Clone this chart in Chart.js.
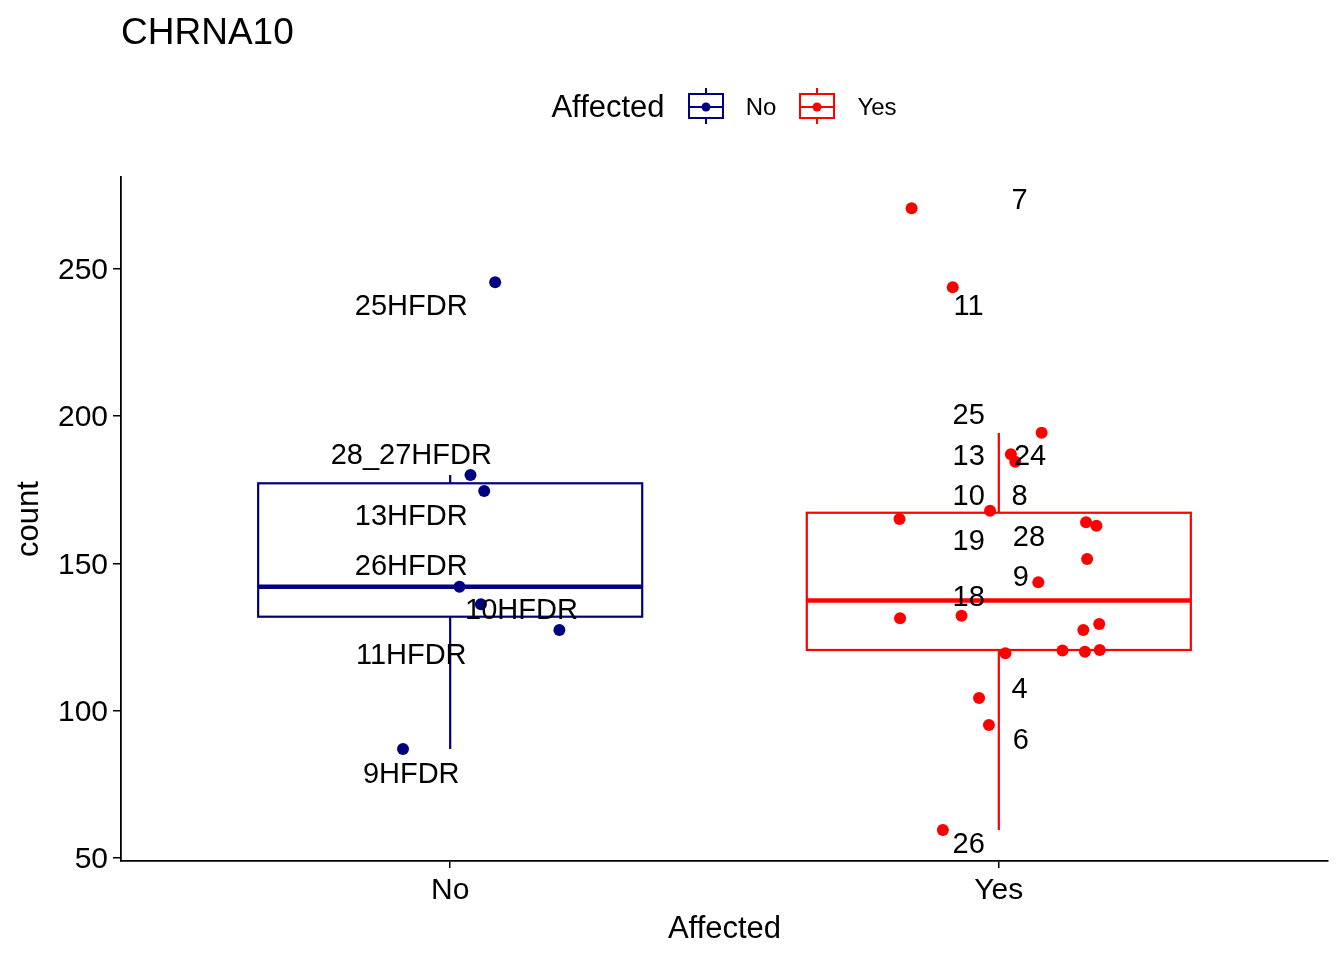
<!DOCTYPE html>
<html>
<head>
<meta charset="utf-8">
<script src="https://cdn.jsdelivr.net/npm/chart.js@4"></script>
<style>
  html, body { margin: 0; padding: 0; background: #fff; }
  canvas { display: block; }
</style>
</head>
<body>
<canvas id="boxChart" width="1344" height="960"></canvas>
<script>
// groups on the x axis
const groups = ['No', 'Yes'];
const groupColors = ['#000080', '#FF0000'];

// jittered points: x offset from the group centre, and count
const noJitter = [0.082, 0.037, 0.062, 0.017, 0.056, 0.199, -0.086];
const noCounts = [245.5, 180.0, 174.6, 142.1, 136.1, 127.4, 87.0];
const yesJitter = [-0.159, -0.084, 0.078, 0.022, 0.030, -0.016, -0.181, 0.159, 0.178, 0.161, 0.072,
                   -0.068, -0.180, 0.183, 0.154, 0.116, 0.157, 0.184, 0.012, -0.036, -0.018, -0.102];
const yesCounts = [270.6, 243.8, 194.4, 187.1, 184.5, 167.9, 165.1, 164.0, 162.8, 151.5, 143.6,
                   132.2, 131.4, 129.4, 127.4, 120.4, 120.0, 120.6, 119.5, 104.3, 95.1, 59.5];

// box statistics per group: lower whisker, q1, median, q3, upper whisker
const whiskerLow = [87.0, 59.5];
const q1 = [131.9, 120.6];
const median = [142.1, 137.4];
const q3 = [177.2, 167.2];
const whiskerHigh = [180.0, 194.3];

// sample labels: text, x offset from group centre, count position
const noLabels = ['25HFDR', '28_27HFDR', '13HFDR', '26HFDR', '10HFDR', '11HFDR', '9HFDR'];
const noLabelX = [-0.071, -0.071, -0.071, -0.071, 0.130, -0.071, -0.071];
const noLabelY = [237.7, 187.1, 166.4, 149.5, 134.5, 119.2, 78.9];
const yesLabels = ['7', '11', '25', '13', '24', '10', '8', '19', '28', '9', '18', '4', '6', '26'];
const yesLabelX = [0.038, -0.055, -0.055, -0.055, 0.057, -0.055, 0.038, -0.055, 0.055, 0.040, -0.055, 0.038, 0.040, -0.055];
const yesLabelY = [273.7, 237.7, 200.7, 186.8, 186.8, 173.2, 173.2, 157.9, 159.3, 145.7, 138.9, 107.7, 90.4, 55.1];

const yTicks = [50, 100, 150, 200, 250];

const FONT = '"Liberation Sans", Arial, Helvetica, sans-serif';
const BOX_HALF = 0.35;

function toPoints(center, jitter, counts) {
  return counts.map((c, i) => ({ x: center + jitter[i], y: c }));
}

const boxPlugin = {
  id: 'boxes',
  beforeDatasetsDraw(chart) {
    const ctx = chart.ctx;
    const xs = chart.scales.x, ys = chart.scales.y;
    ctx.save();
    groups.forEach((g, i) => {
      const c = i + 1;
      const xl = xs.getPixelForValue(c - BOX_HALF);
      const xr = xs.getPixelForValue(c + BOX_HALF);
      const xc = xs.getPixelForValue(c);
      ctx.strokeStyle = groupColors[i];
      ctx.lineWidth = 2.2;
      ctx.beginPath();
      ctx.moveTo(xc, ys.getPixelForValue(whiskerHigh[i]));
      ctx.lineTo(xc, ys.getPixelForValue(q3[i]));
      ctx.moveTo(xc, ys.getPixelForValue(q1[i]));
      ctx.lineTo(xc, ys.getPixelForValue(whiskerLow[i]));
      ctx.stroke();
      const yt = ys.getPixelForValue(q3[i]);
      const yb = ys.getPixelForValue(q1[i]);
      ctx.strokeRect(xl, yt, xr - xl, yb - yt);
      ctx.lineWidth = 4.5;
      ctx.beginPath();
      ctx.moveTo(xl, ys.getPixelForValue(median[i]));
      ctx.lineTo(xr, ys.getPixelForValue(median[i]));
      ctx.stroke();
    });
    ctx.restore();
  },
  afterDatasetsDraw(chart) {
    const ctx = chart.ctx;
    const xs = chart.scales.x, ys = chart.scales.y;
    ctx.save();
    ctx.fillStyle = '#000';
    ctx.font = '29px ' + FONT;
    ctx.textAlign = 'center';
    ctx.textBaseline = 'middle';
    // +2px: canvas 'middle' sits a little high compared to the R device
    noLabels.forEach((t, i) => {
      ctx.fillText(t, xs.getPixelForValue(1 + noLabelX[i]), ys.getPixelForValue(noLabelY[i]) + 2);
    });
    yesLabels.forEach((t, i) => {
      ctx.fillText(t, xs.getPixelForValue(2 + yesLabelX[i]), ys.getPixelForValue(yesLabelY[i]) + 2);
    });
    ctx.restore();
  },
  afterDraw(chart) {
    const ctx = chart.ctx;
    ctx.save();
    // title
    ctx.fillStyle = '#000';
    ctx.font = '37px ' + FONT;
    ctx.textAlign = 'left';
    ctx.textBaseline = 'middle';
    ctx.fillText('CHRNA10', 121, 34);
    // legend
    ctx.font = '31px ' + FONT;
    ctx.textAlign = 'center';
    ctx.fillText('Affected', 608, 108);
    const keyX = [706, 817];
    const keyTextX = [761, 877];
    groups.forEach((g, i) => {
      const cx = keyX[i];
      ctx.strokeStyle = groupColors[i];
      ctx.fillStyle = groupColors[i];
      ctx.lineWidth = 2;
      ctx.beginPath();
      ctx.moveTo(cx, 88); ctx.lineTo(cx, 94);
      ctx.moveTo(cx, 118); ctx.lineTo(cx, 124);
      ctx.moveTo(cx - 17, 107); ctx.lineTo(cx + 17, 107);
      ctx.stroke();
      ctx.strokeRect(cx - 17, 94, 34, 24);
      ctx.beginPath();
      ctx.arc(cx, 107, 4.5, 0, Math.PI * 2);
      ctx.fill();
      ctx.fillStyle = '#000';
      ctx.font = '24px ' + FONT;
      ctx.fillText(g, keyTextX[i], 108);
    });
    ctx.restore();
  }
};

const ctx = document.getElementById('boxChart').getContext('2d');
const boxChart = new Chart(ctx, {
  type: 'scatter',
  data: {
    datasets: [
      {
        label: 'No',
        data: toPoints(1, noJitter, noCounts),
        backgroundColor: groupColors[0],
        borderWidth: 0,
        pointRadius: 6,
        pointHoverRadius: 6
      },
      {
        label: 'Yes',
        data: toPoints(2, yesJitter, yesCounts),
        backgroundColor: groupColors[1],
        borderWidth: 0,
        pointRadius: 6,
        pointHoverRadius: 6
      }
    ]
  },
  options: {
    responsive: false,
    animation: false,
    devicePixelRatio: 1,
    layout: { padding: { top: 177, right: 16, left: 0, bottom: 0 } },
    plugins: {
      legend: { display: false },
      tooltip: { enabled: false }
    },
    scales: {
      x: {
        type: 'linear',
        min: 0.4,
        max: 2.6,
        afterBuildTicks(scale) { scale.ticks = groups.map((g, i) => ({ value: i + 1 })); },
        afterFit(scale) { scale.height = 99; },
        ticks: {
          color: '#000',
          font: { size: 30, family: FONT },
          padding: 5,
          callback: (v) => groups[v - 1]
        },
        grid: { drawOnChartArea: false, color: '#000', lineWidth: 1.5, tickLength: 7 },
        border: { display: true, color: '#000', width: 1.8 },
        title: {
          display: true,
          text: 'Affected',
          color: '#000',
          font: { size: 31, family: FONT },
          padding: { top: 0, bottom: 12 }
        }
      },
      y: {
        min: 48.95,
        max: 281.2,
        afterBuildTicks(scale) { scale.ticks = yTicks.map(v => ({ value: v })); },
        afterFit(scale) { scale.width = 121; },
        ticks: {
          color: '#000',
          font: { size: 30, family: FONT },
          padding: 5,
          labelOffset: 2
        },
        grid: { drawOnChartArea: false, color: '#000', lineWidth: 1.5, tickLength: 8 },
        border: { display: true, color: '#000', width: 1.8 },
        title: {
          display: true,
          text: 'count',
          color: '#000',
          font: { size: 31, family: FONT },
          padding: { top: 11, bottom: 0 }
        }
      }
    }
  },
  plugins: [boxPlugin]
});
</script>
</body>
</html>
